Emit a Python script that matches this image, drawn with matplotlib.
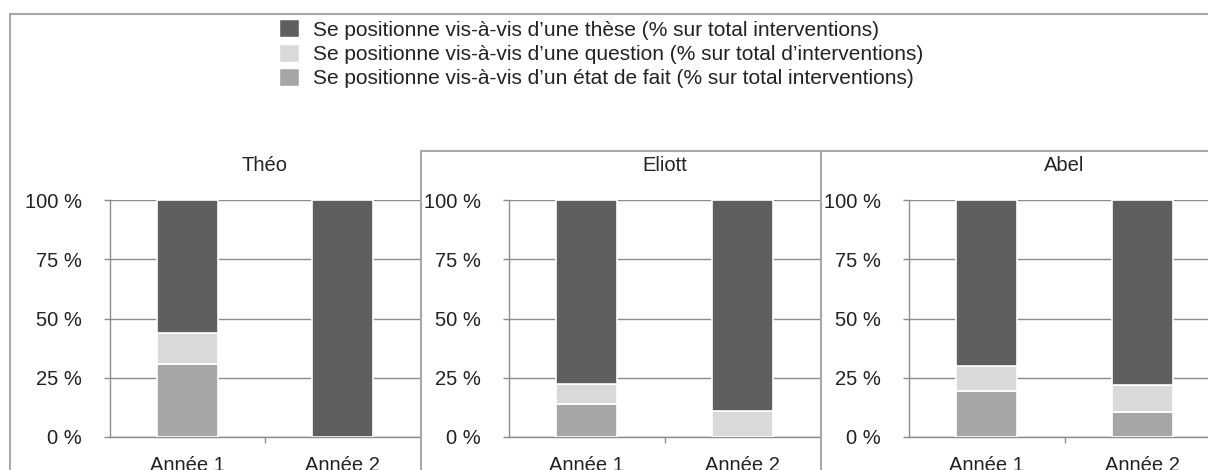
import matplotlib.pyplot as plt
from matplotlib.patches import Patch
from matplotlib.lines import Line2D
import numpy as np

plt.rcParams['font.family'] = ['Liberation Sans', 'DejaVu Sans']

# Données (% des interventions)
eleves = ['Théo', 'Eliott', 'Abel']
annees = ['Année 1', 'Année 2']
etat_de_fait = [[31, 0], [14, 0], [19.5, 10.5]]
question = [[13, 0], [8.5, 11], [10.5, 11.5]]
these = [[56, 100], [77.5, 89], [70, 78]]

labels = ['Se positionne vis-à-vis d\u2019une thèse (% sur total interventions)',
          'Se positionne vis-à-vis d\u2019une question (% sur total d\u2019interventions)',
          'Se positionne vis-à-vis d\u2019un état de fait (% sur total interventions)']
couleurs = {'these': '#5f5f5f', 'question': '#d9d9d9', 'fait': '#a6a6a6'}
gris = '#8c8c8c'
bord = '#a8a8a8'
texte = '#222222'

W, H = 1208, 470
fig = plt.figure(figsize=(W / 100, H / 100), dpi=100)

# position des panneaux en pixels (gauche, droite)
panneaux = [(110, 420), (509, 820), (909, 1220)]
haut, bas = 200, 437

for i, nom in enumerate(eleves):
    g, d = panneaux[i]
    ax = fig.add_axes([g / W, (H - bas) / H, (d - g) / W, (bas - haut) / H])
    x = np.arange(len(annees))
    f = np.array(etat_de_fait[i])
    q = np.array(question[i])
    t = np.array(these[i])
    kw = dict(width=0.39, edgecolor='white', linewidth=1.2, zorder=3)
    ax.bar(x, f, color=couleurs['fait'], **kw)
    ax.bar(x, q, bottom=f, color=couleurs['question'], **kw)
    ax.bar(x, t, bottom=f + q, color=couleurs['these'], **kw)

    ax.set_xlim(-0.5, 1.5)
    ax.set_ylim(0, 100)
    ax.set_yticks([0, 25, 50, 75, 100])
    ax.set_yticklabels([f'{v} %' for v in [0, 25, 50, 75, 100]])
    ax.set_xticks(x)
    ax.set_xticklabels(annees)
    ax.set_xticks([0.5], minor=True)
    ax.tick_params(axis='x', which='major', length=0, pad=14, labelsize=14.5, colors=texte)
    ax.tick_params(axis='x', which='minor', length=4, color=gris, width=1)
    ax.tick_params(axis='y', length=4, color=gris, width=1, pad=16, labelsize=14.5, labelcolor=texte)
    ax.grid(axis='y', color=gris, linewidth=1, zorder=0)
    ax.set_axisbelow(True)
    for s in ['top', 'right']:
        ax.spines[s].set_visible(False)
    for s in ['left', 'bottom']:
        ax.spines[s].set_color(gris)
        ax.spines[s].set_linewidth(1)
    ax.set_title(nom, pad=21, fontsize=14.5, color=texte)

# cadres
def ligne(x0, y0, x1, y1):
    fig.add_artist(Line2D([x0 / W, x1 / W], [1 - y0 / H, 1 - y1 / H],
                          color=bord, linewidth=1.5, transform=fig.transFigure))

ligne(10, 14, W, 14)
ligne(10, 14, 10, H)
ligne(421, 151, W, 151)
ligne(421, 151, 421, H)
ligne(821, 151, 821, H)

handles = [Patch(facecolor=couleurs['these'], edgecolor='white'),
           Patch(facecolor=couleurs['question'], edgecolor='white'),
           Patch(facecolor=couleurs['fait'], edgecolor='white')]
fig.legend(handles, labels, loc='upper left', bbox_to_anchor=(269 / W, 1 - 9 / H),
           frameon=False, fontsize=15, handlelength=0.95, handleheight=0.95,
           handletextpad=0.65, labelspacing=0.2, borderpad=0, labelcolor=texte)

fig.savefig('out.png', dpi=100)
